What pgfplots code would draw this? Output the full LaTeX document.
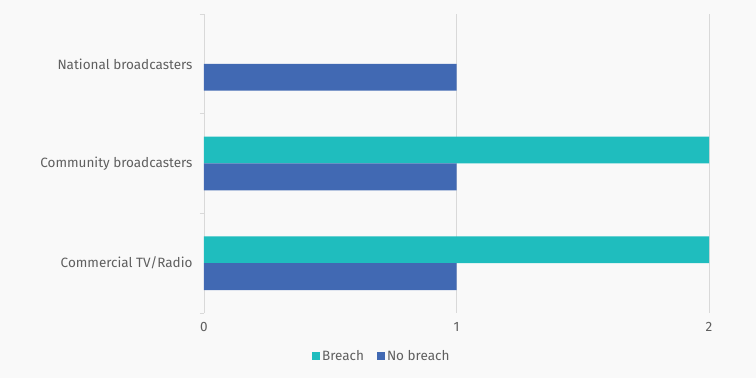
\documentclass[border=0pt]{standalone}
\usepackage{pgfplots}
\pgfplotsset{compat=1.18}
\usepackage{fontspec}
\setmainfont{Fira Sans}
\definecolor{bg}{HTML}{F9F9F9}
\definecolor{breach}{HTML}{1FBDBE}
\definecolor{nobreach}{HTML}{4169B3}
\definecolor{txt}{HTML}{5F5F5F}
\definecolor{gridc}{HTML}{D9D9D9}
\begin{document}
\begin{tikzpicture}[x=1pt,y=1pt]
\fill[bg] (0,0) rectangle (756,378);
\begin{axis}[
  at={(204pt,65pt)}, anchor=south west,
  scale only axis, width=505pt, height=299pt,
  xmin=0, xmax=2, ymin=-0.5, ymax=2.5,
  xtick={0,1,2}, xticklabels={0,1,2},
  ytick={0,1,2},
  yticklabels={Commercial TV/Radio,Community broadcasters,National broadcasters},
  minor ytick={-0.5,0.5,1.5,2.5},
  ytick pos=left, xtick pos=bottom,
  major tick length=0pt, minor tick length=4pt,
  tick align=outside,
  minor tick style={color=gridc, line width=0.8pt},
  axis line style={draw=none},
  xmajorgrids, major grid style={color=gridc, line width=0.8pt},
  ticklabel style={font=\fontsize{13.5}{15}\selectfont, text=txt},
  yticklabel style={xshift=-8pt},
  xticklabel style={yshift=-6pt},
  /pgf/number format/assume math mode=true,
  xbar, bar width=0.27,
  legend style={at={(0.352,-0.144)}, anchor=center, draw=none, fill=none,
    legend columns=2, font=\fontsize{13.5}{15}\selectfont, text=txt,
    /tikz/every even column/.append style={column sep=11pt}},
  legend image code/.code={\fill[#1] (0pt,-4pt) rectangle (8pt,4pt);},
]
\addplot[fill=breach, draw=none, bar shift=0.135] coordinates {(2,0) (2,1)};
\addlegendentry{Breach}
\addplot[fill=nobreach, draw=none, bar shift=-0.135] coordinates {(1,0) (1,1) (1,2)};
\addlegendentry{No breach}
\end{axis}
\end{tikzpicture}
\end{document}
